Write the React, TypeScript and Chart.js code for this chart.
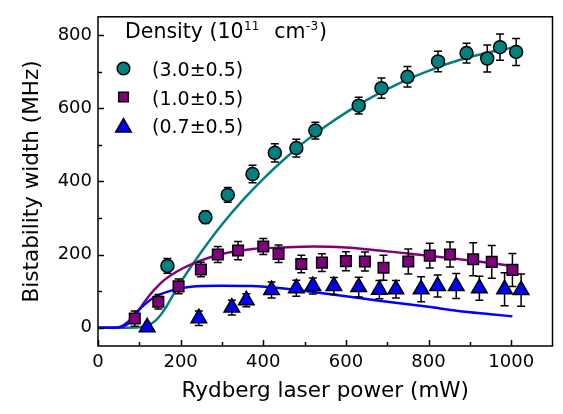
import React, { useEffect, useRef } from "react";
import { Chart, registerables } from "chart.js";

Chart.register(...registerables);

const FONT = "'DejaVu Sans', 'Liberation Sans', sans-serif";

// Axis ticks
const xTickValues = [0, 200, 400, 600, 800, 1000];
const xMinorValues = [100, 300, 500, 700, 900];
const yTickValues = [0, 200, 400, 600, 800];
const yMinorValues = [100, 300, 500, 700];

// Legend
const legendTitle = "Density (10";
const legendTitleSup1 = "11";
const legendTitleMid = "cm";
const legendTitleSup2 = "-3";
const legendTitleEnd = ")";
const seriesLabels = ["(3.0±0.5)", "(1.0±0.5)", "(0.7±0.5)"];

// Series: density 3.0 (teal circles)
const tealX = [168, 260, 314, 374, 428, 480, 526, 631, 686, 749, 823, 892, 942, 973, 1012];
const tealY = [169, 302, 363, 420, 478, 491, 539, 607, 655, 686, 728, 751, 736, 767, 754];
const tealErr = [20, 17, 20, 24, 25, 24, 23, 23, 28, 28, 28, 27, 37, 36, 37];

// Series: density 1.0 (purple squares)
const purpleX = [89, 146, 195, 249, 290, 339, 400, 437, 492, 542, 600, 646, 691, 751, 803, 852, 908, 953, 1003];
const purpleY = [25, 71, 113, 159, 200, 211, 222, 202, 174, 178, 182, 181, 164, 181, 197, 200, 187, 180, 158];
const purpleErr = [21, 20, 20, 20, 22, 25, 22, 24, 24, 24, 26, 26, 34, 34, 34, 34, 45, 45, 45];

// Series: density 0.7 (blue triangles)
const blueX = [119, 244, 324, 359, 420, 480, 520, 571, 631, 681, 721, 782, 822, 867, 923, 984, 1024];
const blueY = [1, 26, 55, 75, 103, 108, 114, 114, 111, 104, 105, 105, 114, 114, 108, 105, 103];
const blueErr = [5, 20, 20, 18, 22, 22, 22, 23, 27, 25, 24, 34, 30, 34, 33, 45, 44];

// Fit curves
const tealFitX = [0, 70, 100, 120, 140, 160, 180, 200, 250, 300, 350, 400, 450, 500, 550, 600, 650, 700, 750, 800, 850, 900, 950, 1000, 1012];
const tealFitY = [0, 0, 1, 6, 20, 48, 86, 124, 207, 282, 348, 407, 460, 508, 550, 588, 622, 652, 679, 702, 723, 740, 754, 765, 768];

const purpleFitX = [0, 50, 70, 88, 100, 120, 140, 160, 190, 230, 295, 374, 442, 522, 600, 680, 750, 800, 870, 950, 1003];
const purpleFitY = [0, 0, 8, 29, 50, 82, 108, 130, 153, 175, 200, 215, 219, 222, 219, 211, 203, 197, 188, 177, 169];

const blueFitX = [0, 40, 55, 72, 100, 137, 185, 225, 297, 370, 450, 530, 600, 680, 745, 800, 872, 950, 1003];
const blueFitY = [0, 0, 3, 15, 50, 84, 104, 112, 115, 114, 107, 96, 86, 74, 65, 57, 46, 37, 31];

const TEAL = "#008080";
const PURPLE = "#800080";
const BLUE = "#0000FF";

const pts = (xs: number[], ys: number[]) => xs.map((x, i) => ({ x, y: ys[i] }));

function drawMarker(ctx: CanvasRenderingContext2D, style: string, x: number, y: number, r: number, fill: string) {
  ctx.save();
  ctx.fillStyle = fill;
  ctx.strokeStyle = "#000";
  ctx.lineWidth = 1.5;
  ctx.beginPath();
  if (style === "circle") {
    ctx.arc(x, y, r, 0, Math.PI * 2);
  } else if (style === "rect") {
    const s = Math.SQRT1_2 * r;
    ctx.rect(x - s, y - s, 2 * s, 2 * s);
  } else {
    ctx.moveTo(x, y - r);
    ctx.lineTo(x + r * Math.sin(Math.PI * 2 / 3), y - r * Math.cos(Math.PI * 2 / 3));
    ctx.lineTo(x + r * Math.sin(Math.PI * 4 / 3), y - r * Math.cos(Math.PI * 4 / 3));
    ctx.closePath();
  }
  ctx.fill();
  ctx.stroke();
  ctx.restore();
}

const errorBarPlugin = {
  id: "errorBars",
  beforeDatasetDraw(chart: any, args: any) {
    const ds = chart.data.datasets[args.index];
    if (!ds.errors) return;
    const ctx = chart.ctx;
    const xs = chart.scales.x;
    const ys = chart.scales.y;
    ctx.save();
    ctx.strokeStyle = "#000";
    ctx.lineWidth = 1.5;
    ds.data.forEach((p: any, i: number) => {
      const e = ds.errors[i];
      const px = xs.getPixelForValue(p.x);
      const top = ys.getPixelForValue(p.y + e);
      const bot = ys.getPixelForValue(p.y - e);
      ctx.beginPath();
      ctx.moveTo(px, top);
      ctx.lineTo(px, bot);
      ctx.moveTo(px - 4, top);
      ctx.lineTo(px + 4, top);
      ctx.moveTo(px - 4, bot);
      ctx.lineTo(px + 4, bot);
      ctx.stroke();
    });
    ctx.restore();
  },
};

const framePlugin = {
  id: "frame",
  afterDraw(chart: any) {
    const ctx = chart.ctx;
    const a = chart.chartArea;
    const xs = chart.scales.x;
    const ys = chart.scales.y;
    ctx.save();
    ctx.strokeStyle = "#000";
    ctx.lineWidth = 1.5;
    ctx.strokeRect(a.left, a.top, a.right - a.left, a.bottom - a.top);
    ctx.beginPath();
    xTickValues.forEach((v) => {
      const p = Math.round(xs.getPixelForValue(v)) + 0.5;
      ctx.moveTo(p, a.bottom);
      ctx.lineTo(p, a.bottom - 6);
    });
    xMinorValues.forEach((v) => {
      const p = Math.round(xs.getPixelForValue(v)) + 0.5;
      ctx.moveTo(p, a.bottom);
      ctx.lineTo(p, a.bottom - 4);
    });
    yTickValues.forEach((v) => {
      const p = Math.round(ys.getPixelForValue(v)) + 0.5;
      ctx.moveTo(a.left, p);
      ctx.lineTo(a.left + 6, p);
    });
    yMinorValues.forEach((v) => {
      const p = Math.round(ys.getPixelForValue(v)) + 0.5;
      ctx.moveTo(a.left, p);
      ctx.lineTo(a.left + 4, p);
    });
    ctx.stroke();
    ctx.restore();
  },
};

const legendPlugin = {
  id: "customLegend",
  afterDraw(chart: any) {
    const ctx = chart.ctx;
    ctx.save();
    ctx.fillStyle = "#000";
    ctx.textBaseline = "alphabetic";
    ctx.textAlign = "left";
    const big = `20.5px ${FONT}`;
    const small = `12px ${FONT}`;
    let x = 125;
    const by = 38;
    ctx.font = big;
    ctx.fillText(legendTitle, x, by);
    x += ctx.measureText(legendTitle).width + 0.5;
    ctx.font = small;
    ctx.fillText(legendTitleSup1, x, by - 8);
    x += ctx.measureText(legendTitleSup1).width + 15;
    ctx.font = big;
    ctx.fillText(legendTitleMid, x, by);
    x += ctx.measureText(legendTitleMid).width + 0.5;
    ctx.font = small;
    ctx.fillText(legendTitleSup2, x, by - 8);
    x += ctx.measureText(legendTitleSup2).width + 1;
    ctx.font = big;
    ctx.fillText(legendTitleEnd, x, by);

    const styles = [
      { s: "circle", r: 6.3, c: TEAL, y: 68.5 },
      { s: "rect", r: 6.8, c: PURPLE, y: 97 },
      { s: "triangle", r: 9, c: BLUE, y: 127.5 },
    ];
    const baselines = [76, 104.5, 133];
    ctx.font = `19px ${FONT}`;
    styles.forEach((st, i) => {
      drawMarker(ctx, st.s, 123.5, st.y, st.r, st.c);
      ctx.fillStyle = "#000";
      ctx.fillText(seriesLabels[i], 152, baselines[i]);
    });
    ctx.restore();
  },
};

export default function App() {
  const ref = useRef<HTMLCanvasElement | null>(null);

  useEffect(() => {
    if (!ref.current) return;
    const tickFont = { family: FONT, size: 18 };
    const titleFont = { family: FONT, size: 21.5 };
    const fit = (label: string, xs: number[], ys: number[], color: string, order: number) =>
      ({
        label,
        data: pts(xs, ys),
        showLine: true,
        borderColor: color,
        borderWidth: 2.5,
        pointRadius: 0,
        cubicInterpolationMode: "monotone",
        order,
      } as any);
    const chart = new Chart(ref.current, {
      type: "scatter",
      data: {
        datasets: [
          fit("fit 3.0", tealFitX, tealFitY, TEAL, 5),
          fit("fit 1.0", purpleFitX, purpleFitY, PURPLE, 4),
          fit("fit 0.7", blueFitX, blueFitY, BLUE, 3),
          {
            label: seriesLabels[2],
            data: pts(blueX, blueY),
            errors: blueErr,
            pointStyle: "triangle",
            pointRadius: 9,
            backgroundColor: BLUE,
            borderColor: "#000",
            borderWidth: 1.5,
            order: 2,
          } as any,
          {
            label: seriesLabels[1],
            data: pts(purpleX, purpleY),
            errors: purpleErr,
            pointStyle: "rect",
            pointRadius: 7.5,
            backgroundColor: PURPLE,
            borderColor: "#000",
            borderWidth: 1.5,
            order: 1,
          } as any,
          {
            label: seriesLabels[0],
            data: pts(tealX, tealY),
            errors: tealErr,
            pointStyle: "circle",
            pointRadius: 6.5,
            backgroundColor: TEAL,
            borderColor: "#000",
            borderWidth: 1.5,
            order: 0,
          } as any,
        ],
      },
      options: {
        animation: false,
        responsive: false,
        devicePixelRatio: 1,
        events: [],
        layout: { padding: { top: 4, right: 4, left: 0, bottom: 0 } },
        plugins: { legend: { display: false }, tooltip: { enabled: false } },
        scales: {
          x: {
            type: "linear",
            min: 0,
            max: 1100,
            afterBuildTicks: (s: any) => {
              s.ticks = xTickValues.map((v) => ({ value: v }));
            },
            afterFit: (s: any) => {
              s.height = 68;
            },
            grid: { display: false, drawTicks: false },
            border: { display: false },
            ticks: {
              font: tickFont,
              color: "#000",
              padding: 6,
              autoSkip: false,
              maxRotation: 0,
              callback: (v: any) => String(v),
            },
            title: {
              display: true,
              text: "Rydberg laser power (mW)",
              font: titleFont,
              color: "#000",
              padding: { top: 0, bottom: 10 },
            },
          },
          y: {
            type: "linear",
            min: -50,
            max: 850,
            afterBuildTicks: (s: any) => {
              s.ticks = yTickValues.map((v) => ({ value: v }));
            },
            afterFit: (s: any) => {
              s.width = 98;
            },
            grid: { display: false, drawTicks: false },
            border: { display: false },
            ticks: {
              font: tickFont,
              color: "#000",
              padding: 6,
              autoSkip: false,
              callback: (v: any) => String(v),
            },
            title: {
              display: true,
              text: "Bistability width (MHz)",
              font: titleFont,
              color: "#000",
              padding: { top: 20, bottom: 0 },
            },
          },
        },
      } as any,
      plugins: [errorBarPlugin, framePlugin, legendPlugin],
    });
    return () => chart.destroy();
  }, []);

  return (
    <div style={{ position: "absolute", left: 0, top: 0, width: 563, height: 414, background: "#fff" }}>
      <canvas ref={ref} width={563} height={414} style={{ width: 563, height: 414, display: "block" }} />
    </div>
  );
}
